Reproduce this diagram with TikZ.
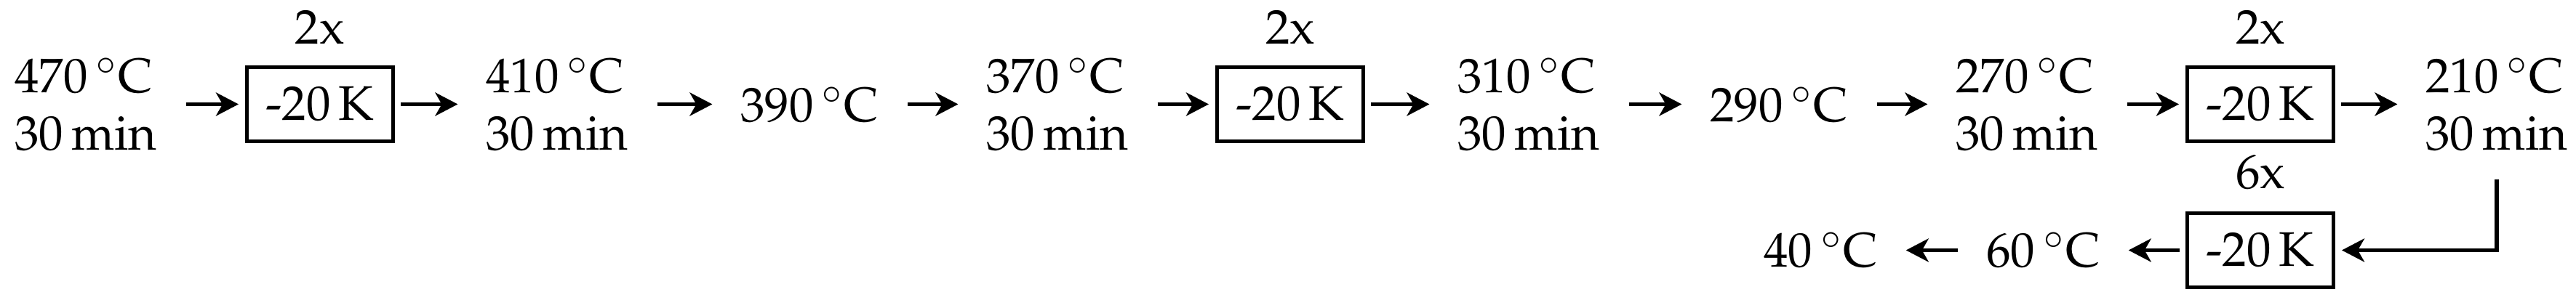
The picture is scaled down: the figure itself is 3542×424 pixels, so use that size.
\documentclass[tikz,border=0pt]{standalone}
\usepackage[T1]{fontenc}
\usepackage{mathpazo}
\usetikzlibrary{arrows.meta}
\newcommand\twoline[2]{\begin{tabular}[t]{@{}l@{}}#1\\#2\end{tabular}}
\newcommand\dC[1]{#1\,\ensuremath{^\circ}C}
\begin{document}
\begin{tikzpicture}[x=0.15385pt,y=-0.15385pt,
  font=\fontsize{10.3}{12.15}\selectfont,
  txt/.style={inner sep=0pt, anchor=base west},
  kbox/.style={draw, line width=0.77pt, minimum width=30.92pt, minimum height=15.69pt, inner sep=0pt},
  rep/.style={inner sep=0pt, anchor=base},
  arr/.style={line width=0.92pt, -{Stealth[length=4.77pt, width=4.92pt, inset=1.38pt]}},
  fromtxt/.style={shorten <=5.92pt},
  totxt/.style={shorten >=5.77pt},
  frombox/.style={shorten <=1.23pt},
  tobox/.style={shorten >=1.38pt}
]
\useasboundingbox (0,0) rectangle (3542,424);

\node[txt] (t1) at (19,128) {\twoline{\dC{470}}{30\,min}};
\node[kbox] (b1) at (440,143.5) {-20\,K};
\node[rep] (r1) at (440,61) {2x};
\node[txt] (t2) at (667,128) {\twoline{\dC{410}}{30\,min}};
\node[txt] (t3) at (1017,168) {\dC{390}};
\node[txt] (t4) at (1355,128) {\twoline{\dC{370}}{30\,min}};
\node[kbox] (b2) at (1774,143.5) {-20\,K};
\node[rep] (r2) at (1774,61) {2x};
\node[txt] (t5) at (2003,128) {\twoline{\dC{310}}{30\,min}};
\node[txt] (t6) at (2350,168) {\dC{290}};
\node[txt] (t7) at (2688,128) {\twoline{\dC{270}}{30\,min}};
\node[kbox] (b3) at (3108,143.5) {-20\,K};
\node[rep] (r3) at (3108,61) {2x};
\node[txt] (t8) at (3334,128) {\twoline{\dC{210}}{30\,min}};
\node[kbox] (b4) at (3108,344.5) {-20\,K};
\node[rep] (r4) at (3108,260) {6x};
\node[txt] (t9) at (2730,368) {\dC{60}};
\node[txt] (t10) at (2424,368) {\dC{40}};

\draw[arr,fromtxt,tobox] (t1.east |- b1.center) -- (b1.west);
\draw[arr,frombox,totxt] (b1.east) -- (t2.west |- b1.center);
\draw[arr,fromtxt,totxt] (t2.east |- b1.center) -- (t3.west |- b1.center);
\draw[arr,fromtxt,totxt] (t3.east |- b1.center) -- (t4.west |- b1.center);
\draw[arr,fromtxt,tobox] (t4.east |- b2.center) -- (b2.west);
\draw[arr,frombox,totxt] (b2.east) -- (t5.west |- b2.center);
\draw[arr,fromtxt,totxt] (t5.east |- b2.center) -- (t6.west |- b2.center);
\draw[arr,fromtxt,totxt] (t6.east |- b2.center) -- (t7.west |- b2.center);
\draw[arr,fromtxt,tobox] (t7.east |- b3.center) -- (b3.west);
\draw[arr,frombox,totxt] (b3.east) -- (t8.west |- b3.center);
\draw[arr,shorten <=2.25pt,tobox] (t8.south) |- (b4.east);
\draw[arr,frombox,totxt] (b4.west) -- (t9.east |- b4.center);
\draw[arr,fromtxt,totxt] (t9.west |- b4.center) -- (t10.east |- b4.center);
\end{tikzpicture}
\end{document}
